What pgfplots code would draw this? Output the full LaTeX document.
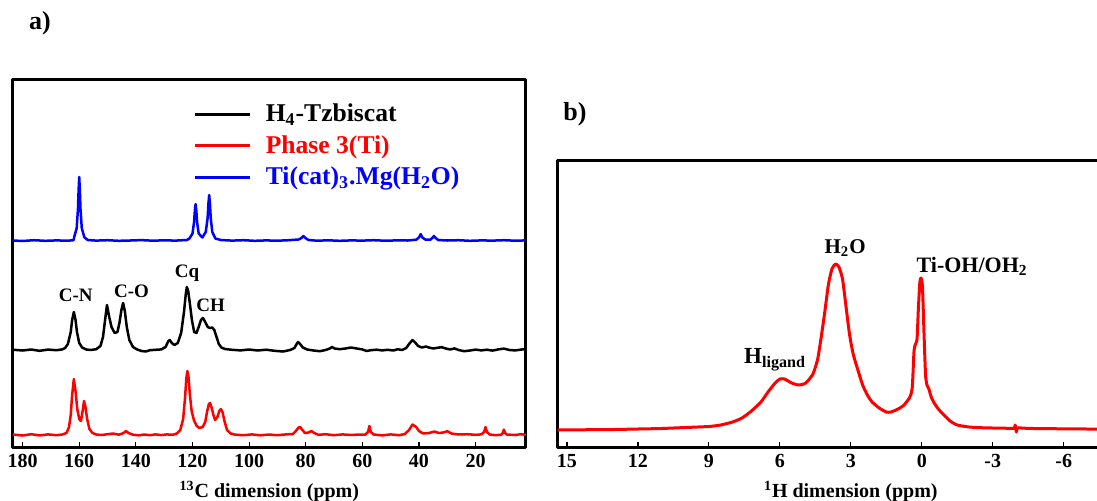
\documentclass[border=0pt]{standalone}
\usepackage{pgfplots}
\pgfplotsset{compat=1.18}
\usepackage{fontspec}
\setmainfont{Liberation Serif}
\begin{document}
\begin{tikzpicture}
\useasboundingbox (0pt,0pt) rectangle (548.5pt,250pt);
\pgfplotsset{
  nmr/.style={scale only axis, anchor=south west, axis line style={line width=1.5pt}, x dir=reverse,
    ytick=\empty, xtick pos=left, tick align=inside, major tick length=2.5pt,
    every tick/.style={line width=0.6pt, black},
    tick label style={font=\bfseries\fontsize{10}{12}\selectfont},
    xlabel style={font=\bfseries\fontsize{10}{12}\selectfont},
    clip mode=individual, line join=round}
}
\begin{axis}[nmr, at={(6.35pt,26.5pt)}, width=256.65pt, height=184pt,
  xmin=2.2, xmax=183.5, ymin=0, ymax=368,
  xtick={20,40,60,80,100,120,140,160,180},
  xticklabels={20,40,60,80,100,120,140,160,180},
  xlabel={\textsuperscript{13}C dimension (ppm)},
  legend style={at={(0.352,0.944)}, anchor=north west, draw=none, fill=none, inner sep=0pt,
    font=\bfseries\fontsize{12.8}{15}\selectfont, row sep=1.4pt,
    /tikz/every odd column/.append style={column sep=5pt}},
  legend cell align=left,
  legend image code/.code={\draw[#1,line width=1.5pt] (0pt,0pt) -- (27.5pt,0pt);}]
% black
\addplot[black, line width=1.25pt] coordinates {
(183.5,97.3)(180,96.5)(177,97.5)(174,96.2)(171,97.4)(168,96.8)(166,97.6)(165,99)(164,103)(163,115)(162.5,127)(161.9,135)(161.3,127)(160.8,115)(160,104)(159,99.5)(157.5,97.5)(156,97)(154,97.8)(152.5,101)(151.6,110)(151,124)(150.2,142)(149.4,130)(148.6,120)(147.5,114)(146.5,115)(145.8,124)(145.1,137)(144.5,144)(143.9,136)(143.2,120)(142.3,107)(141,100)(139.5,97.5)(138,96)(136.5,95.5)(135,96.8)(133,97.2)(131,97.6)(129.5,100)(128.5,106)(128,107)(127.3,104)(126.4,102)(125.2,104)(124,114)(123,135)(122.4,152)(122,160)(121.5,156)(120.9,143)(120.2,127)(119.4,115)(118.6,114)(117.8,120)(117,127)(116.3,129)(115.5,125)(114.6,120)(113.8,119)(113,119.5)(112.3,117)(111.5,110)(110.7,103)(109.8,99.5)(108.5,98)(106,97.2)(103,96.6)(100,97.5)(97,96.5)(94,97.3)(91,96.2)(88,95.5)(85.5,97)(84,99)(83.2,103)(82.7,105)(82,103)(81,99.5)(79.5,97.5)(77,96.4)(75,95.8)(73,97)(71.5,98.5)(70.7,100)(69.8,98.5)(68,97.8)(66,98.5)(64,99.5)(62,98.5)(60,97.6)(58.5,96)(57,96.8)(55,97.3)(53,96.6)(51,97.2)(49,96.5)(47.5,97.8)(46,97)(44.5,99)(43.5,103)(42.3,107)(41.2,104)(40.3,101)(39,99.5)(37.5,100.5)(36.5,99.5)(35,98.5)(33.5,99.2)(32,99.8)(30.5,98.5)(29,97.5)(27.5,98.6)(26,97)(24,95.8)(22,96.5)(20,97.4)(18,96.6)(16,97.3)(14,96.4)(12,97.6)(10,98.4)(8,97)(6,96.6)(4,97.4)(2.2,98)
};
\addlegendentry{H\textsubscript{4}-Tzbiscat}
% red
\addplot[red, line width=1.25pt] coordinates {
(183.5,12.5)(180,11.5)(177,12.8)(174,11.6)(171,12.6)(168,11.8)(166,12.5)(164.5,14)(163.6,20)(163,32)(162.5,52)(161.9,68)(161.3,56)(160.7,38)(160,28)(159.4,26)(158.8,36)(158.3,46)(157.8,40)(157.2,28)(156.4,18)(155.3,14)(154,12.5)(152,12)(150,12.8)(148,13.5)(146,12.3)(144.3,14)(143.5,16)(142.6,14)(141,12.3)(139,11.7)(137,12.5)(135,11.8)(133,12.6)(131,11.9)(129,12.6)(127,12.2)(125.5,13.5)(124.3,17)(123.3,28)(122.6,50)(122.2,68)(121.8,76)(121.4,70)(120.9,52)(120.3,36)(119.5,27)(118.5,21)(117.5,19)(116.4,20)(115.5,25)(114.8,36)(114.2,43)(113.8,44)(113.3,40)(112.6,32)(112,27)(111.2,30)(110.5,36)(110,38)(109.4,35)(108.7,26)(107.8,17)(106.5,13.5)(105,12.4)(102,11.8)(99,12.6)(96,11.7)(93,12.5)(90,11.8)(87,12.6)(84.5,13)(83.5,16)(82.5,19.5)(82,20)(81.3,17.5)(80.3,14)(79,14.5)(78,16)(77,14)(75.5,12.2)(73,12.8)(70,11.8)(67,12.6)(64,12)(61,12.5)(59,12.3)(58,15)(57.5,21)(57,15)(56,12.5)(53,11.6)(50,12.6)(47,11.8)(45,13)(43.5,17)(42.3,22.5)(41,20)(40,16)(38.5,13.5)(36.5,14)(34.5,15.5)(33,14)(31.5,14.5)(30,15.8)(28.5,13.5)(26,12.5)(23,12.8)(20,12.2)(18,12.6)(17,15)(16.5,20)(16,15)(15,12.5)(13,11.8)(11,12.3)(10.4,14)(10,17.5)(9.6,14)(9,12.5)(6,12)(4,12.8)(2.2,12.2)
};
\addlegendentry{\textcolor{red}{Phase 3(Ti)}}
% blue
\addplot[blue, line width=1.25pt] coordinates {
(183.5,206.5)(180,206)(176,206.8)(172,206.2)(168,206.6)(164,206.3)(162,206.8)(161.8,209.8)(160.9,218.8)(160.45,238)(160.22,257)(160,270)(159.78,257)(159.55,238)(159.1,218.8)(158.2,209.8)(157,207)(154,206.4)(150,206.8)(146,206.2)(142,206.5)(138,206.9)(134,206.3)(130,206.7)(126,206.4)(122,207)(121.1,208.4)(120,213.4)(119.45,224.5)(119.18,235.6)(118.9,243)(118.62,235.6)(118.35,224.5)(117.8,213.4)(116.5,209.5)(115.3,215.2)(114.65,229)(114.38,243)(114.1,252)(113.82,243)(113.55,229)(113,215)(111.9,208.5)(110,207)(106,206.4)(102,206.8)(98,206.2)(94,206.6)(90,206.3)(86,206.8)(82.5,207.5)(81.5,209)(80.8,211)(80.1,209)(79,207)(76,206.3)(72,206.7)(68,206.2)(64,206.6)(60,206.4)(56,206.8)(52,206.3)(48,206.6)(44,206.5)(41,207.3)(40,209.5)(39.4,213)(38.8,209.5)(37.8,207.5)(36,207.3)(35.3,209)(34.7,211)(34.1,209)(33.2,207)(30,206.5)(26,206.8)(22,206.2)(18,206.6)(14,206.4)(10,206.8)(6,206.3)(2.2,206.6)
};
\addlegendentry{\textcolor{blue}{Ti(cat)\textsubscript{3}.Mg(H\textsubscript{2}O)}}
\begin{scope}[every node/.style={font=\bfseries\fontsize{9.5}{11}\selectfont}]
\node at (axis cs:161.2,152) {C-N};
\node at (axis cs:141.5,155.3) {C-O};
\node at (axis cs:121.9,173.5) {Cq};
\node at (axis cs:113.6,142) {CH};
\end{scope}
\end{axis}

\begin{axis}[nmr, at={(278.75pt,26.5pt)}, width=293.3pt, height=143.5pt,
  xmin=-9.4, xmax=15.4, ymin=0, ymax=287,
  xtick={-6,-3,0,3,6,9,12,15}, xticklabels={-6,-3,0,3,6,9,12,15},
  xlabel={\textsuperscript{1}H dimension (ppm)}]
\addplot[red, line width=1.5pt, smooth, tension=0.35] coordinates {
(15.4,17)(14,17.3)(13,17.5)(12,18)(11,18.5)(10,19.5)(9,20.5)(8.5,22)(8,25)(7.6,29)(7.2,36)(6.8,45)(6.5,55)(6.2,64)(6.0,68)(5.8,68)(5.5,64)(5.2,62)(4.9,64)(4.6,73)(4.4,88)(4.25,110)(4.1,135)(3.95,162)(3.8,178)(3.65,183)(3.5,180)(3.35,168)(3.2,140)(3.05,112)(2.9,93)(2.7,77)(2.5,62)(2.3,52)(2.1,45)(1.8,39)(1.5,35)(1.3,35)(1.0,38)(0.75,42)(0.5,50)(0.4,60)(0.33,95)(0.28,102)(0.2,108)(0.14,140)(0.08,165)(0.03,169)(-0.03,160)(-0.1,110)(-0.16,72)(-0.22,62)(-0.3,58)(-0.4,50)(-0.5,45)(-0.7,38)(-0.9,33)(-1.2,26)(-1.5,22)(-2,20)(-2.5,19.3)(-3,19)(-3.5,18.8)(-3.9,18.7)(-3.95,22)(-4.0,15)(-4.05,19)(-4.5,18.6)(-5,18.4)(-6,18.2)(-7,18)(-8,17.8)(-9.4,17.6)
};
\node[font=\bfseries\fontsize{10.5}{12}\selectfont] at (axis cs:3.24,199) {H\textsubscript{2}O};
\node[font=\bfseries\fontsize{11}{13}\selectfont] at (axis cs:-2.13,180.3) {Ti-OH/OH\textsubscript{2}};
\node[font=\bfseries\fontsize{11.5}{13}\selectfont] at (axis cs:6.2,87) {H\textsubscript{ligand}};
\end{axis}
\node[font=\bfseries\fontsize{13}{15}\selectfont] at (20pt,238.5pt) {a)};
\node[font=\bfseries\fontsize{13}{15}\selectfont] at (287.5pt,193pt) {b)};
\end{tikzpicture}
\end{document}
